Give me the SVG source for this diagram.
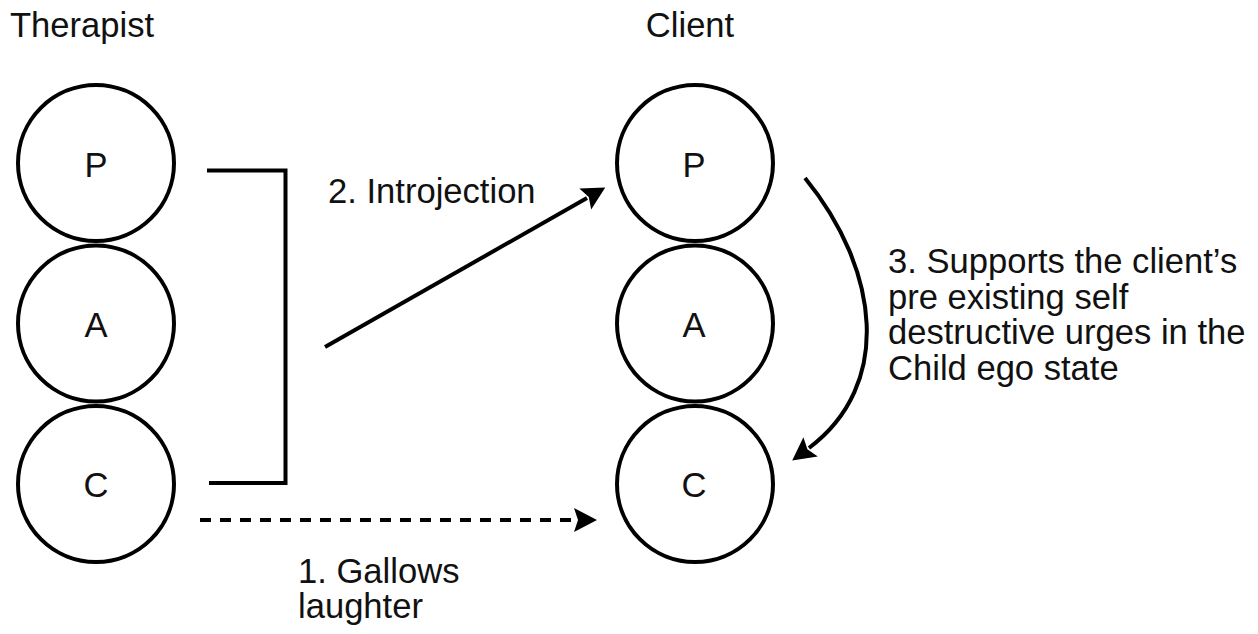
<svg xmlns="http://www.w3.org/2000/svg" width="1258" height="634" viewBox="0 0 1258 634">
  <style>
    .ego { fill: #ffffff; stroke: #000000; stroke-width: 4; }
    .t { font-family: "Liberation Sans", Arial, Helvetica, sans-serif; font-size: 34.6px; fill: #111111; }
    .mid { text-anchor: middle; }
    .line { fill: none; stroke: #000000; stroke-width: 4; }
    .dash { stroke-dasharray: 11 9; }
  </style>
  <defs>
    <marker id="arrow" markerUnits="userSpaceOnUse" markerWidth="26" markerHeight="28" viewBox="0 -14 26 28" refX="2" refY="0" orient="auto">
      <path d="M0,-12 L23,0 L0,12 L4,0 Z" fill="#000000"/>
    </marker>
  </defs>
  <rect x="0" y="0" width="1258" height="634" fill="#ffffff"/>

  <g id="title-therapist"><text class="t" x="10" y="37">Therapist</text></g>
  <g id="title-client"><text class="t mid" x="690" y="37">Client</text></g>

  <g id="therapist-P"><circle class="ego" cx="96" cy="163" r="78"/><text class="t mid" x="96" y="177">P</text></g>
  <g id="therapist-A"><circle class="ego" cx="96" cy="323.5" r="78"/><text class="t mid" x="96" y="337">A</text></g>
  <g id="therapist-C"><circle class="ego" cx="96" cy="484" r="78"/><text class="t mid" x="96" y="497">C</text></g>

  <g id="client-P"><circle class="ego" cx="695" cy="163" r="78"/><text class="t mid" x="694" y="177">P</text></g>
  <g id="client-A"><circle class="ego" cx="695" cy="323.5" r="78"/><text class="t mid" x="694" y="337">A</text></g>
  <g id="client-C"><circle class="ego" cx="695" cy="484" r="78"/><text class="t mid" x="694" y="497">C</text></g>

  <g id="connectors">
    <path class="line" d="M207,170.5 H285.5 V483 H209"/>
    <path class="line" d="M325,347 L587,198" marker-end="url(#arrow)"/>
    <path class="line dash" d="M200,520 H576" marker-end="url(#arrow)"/>
    <path class="line" d="M805,178 C880,270 893,385 809,448" marker-end="url(#arrow)"/>
  </g>

  <g id="label-introjection"><text class="t" x="328" y="203">2. Introjection</text></g>
  <g id="label-gallows">
    <text class="t" x="298" y="583">1. Gallows</text>
    <text class="t" x="298" y="618">laughter</text>
  </g>
  <g id="label-supports">
    <text class="t" x="888" y="273">3. Supports the client’s</text>
    <text class="t" x="888" y="308.5">pre existing self</text>
    <text class="t" x="888" y="344">destructive urges in the</text>
    <text class="t" x="888" y="379.5">Child ego state</text>
  </g>
</svg>
